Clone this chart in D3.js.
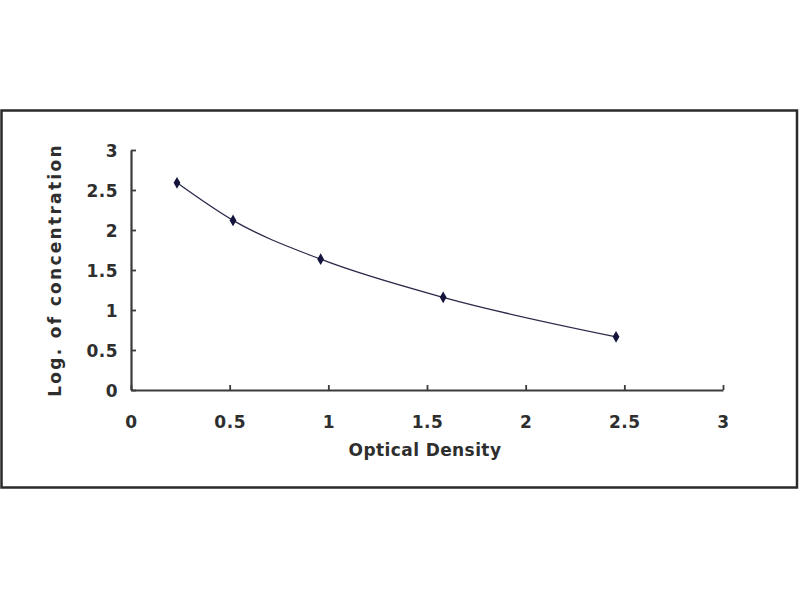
<!DOCTYPE html>
<html lang="en">
  <head>
    <meta charset="UTF-8" />
    <title>Standard Curve</title>
    <script src="https://d3js.org/d3.v7.min.js"></script>
    <style>
      html,
      body {
        margin: 0;
        padding: 0;
        background-color: #ffffff;
        font-family: "DejaVu Sans", Arial, sans-serif;
      }
      .tick-label {
        font-family: "DejaVu Sans", Arial, sans-serif;
        font-size: 17px;
        font-weight: bold;
        fill: #2e2e2e;
        letter-spacing: 0.5px;
      }
      .axis-title {
        font-family: "DejaVu Sans", Arial, sans-serif;
        font-size: 17px;
        font-weight: bold;
        fill: #2e2e2e;
      }
    </style>
  </head>
  <body>
    <svg id="chart"></svg>
    <script>
      // Data
      const opticalDensity = [0.233, 0.517, 0.961, 1.582, 2.458];
      const logConcentration = [2.59, 2.12, 1.635, 1.158, 0.665];
      const xTicks = [0, 0.5, 1, 1.5, 2, 2.5, 3];
      const yTicks = [0, 0.5, 1, 1.5, 2, 2.5, 3];

      const points = opticalDensity.map((d, i) => ({ x: d, y: logConcentration[i] }));

      const width = 800;
      const height = 600;
      const margin = { top: 150, right: 77, bottom: 210, left: 131 };
      const innerW = width - margin.left - margin.right;
      const innerH = height - margin.top - margin.bottom;

      const svg = d3.select("#chart").attr("width", width).attr("height", height);

      // Outer frame
      svg
        .append("rect")
        .attr("x", 1.5)
        .attr("y", 110.5)
        .attr("width", 795.5)
        .attr("height", 377)
        .attr("fill", "none")
        .attr("stroke", "#2a2a2a")
        .attr("stroke-width", 2.5);

      const g = svg.append("g").attr("transform", `translate(${margin.left},${margin.top})`);

      const x = d3.scaleLinear().domain([0, 3]).range([0, innerW]);
      const y = d3.scaleLinear().domain([0, 3]).range([innerH, 0]);

      // Axes with inward ticks
      const xAxis = g
        .append("g")
        .attr("transform", `translate(0,${innerH})`)
        .call(d3.axisBottom(x).tickValues(xTicks).tickSizeInner(-5).tickSizeOuter(0).tickFormat(d3.format("")));
      const yAxis = g
        .append("g")
        .call(d3.axisLeft(y).tickValues(yTicks).tickSizeInner(-5).tickSizeOuter(0).tickFormat(d3.format("")));

      [xAxis, yAxis].forEach((ax) => {
        ax.select(".domain").attr("stroke", "#3a3a3a").attr("stroke-width", 2.2);
        ax.selectAll(".tick line").attr("stroke", "#3a3a3a").attr("stroke-width", 1.8);
        ax.selectAll(".tick text").attr("class", "tick-label").attr("font-family", null).attr("font-size", null);
      });
      xAxis.selectAll(".tick text").attr("dy", null).attr("y", 38);
      yAxis.selectAll(".tick text").attr("x", -13).attr("dy", "0.36em");

      // Fitted curve
      const line = d3
        .line()
        .x((d) => x(d.x))
        .y((d) => y(d.y))
        .curve(d3.curveMonotoneX);

      g.append("path")
        .datum(points)
        .attr("fill", "none")
        .attr("stroke", "#2a2a4a")
        .attr("stroke-width", 1.3)
        .attr("d", line);

      // Markers
      g.selectAll(".pt")
        .data(points)
        .enter()
        .append("path")
        .attr("class", "pt")
        .attr("transform", (d) => `translate(${x(d.x)},${y(d.y)})`)
        .attr("d", d3.symbol().type(d3.symbolDiamond).size(40))
        .attr("fill", "#14143c");

      // Axis titles
      svg
        .append("text")
        .attr("class", "axis-title")
        .attr("x", 425)
        .attr("y", 456)
        .attr("text-anchor", "middle")
        .style("letter-spacing", "0.4px")
        .text("Optical Density");

      svg
        .append("text")
        .attr("class", "axis-title")
        .attr("transform", "translate(61,270) rotate(-90)")
        .attr("text-anchor", "middle")
        .style("letter-spacing", "2.3px")
        .text("Log. of concentration");
    </script>
  </body>
</html>
